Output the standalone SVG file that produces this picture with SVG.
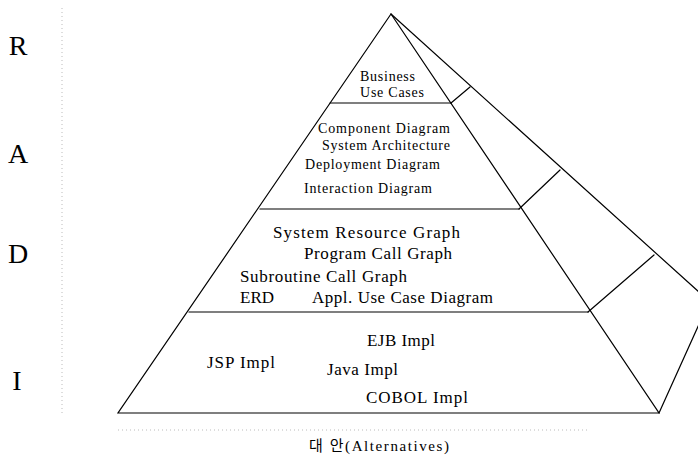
<svg xmlns="http://www.w3.org/2000/svg" width="698" height="455" viewBox="0 0 698 455">
<style>
.edge{stroke:#000;stroke-width:1.2;fill:none;stroke-linecap:round}
.t{font-family:"Liberation Serif","Times New Roman",serif;font-size:14px;fill:#000}
.t2{font-family:"Liberation Serif","Times New Roman",serif;font-size:17px;fill:#000}
.t3{font-family:"Liberation Serif","Noto Sans CJK KR",serif;font-size:15px;fill:#000}
.big{font-family:"Liberation Serif","Times New Roman",serif;font-size:28px;fill:#000}
.dot{stroke:#bbb;stroke-width:1;stroke-dasharray:1 3;fill:none}
</style>
<rect width="698" height="455" fill="#fff"/>
<g id="scan-marks">
<line class="dot" x1="62" y1="8" x2="62" y2="413"/>
<line class="dot" x1="118" y1="430" x2="590" y2="430"/>
</g>
<g id="phases">
<text class="big" x="18" y="55" text-anchor="middle">R</text>
<text class="big" x="18" y="163" text-anchor="middle">A</text>
<text class="big" x="18" y="263" text-anchor="middle">D</text>
<text class="big" x="17" y="390" text-anchor="middle">I</text>
</g>
<g id="connectors">
<path class="edge" d="M391,14 L118,413 L659,413 Z"/>
<path class="edge" d="M391,14 L710,302"/>
<line class="edge" x1="330" y1="103" x2="451" y2="103"/>
<line class="edge" x1="260" y1="209" x2="519" y2="209"/>
<line class="edge" x1="189" y1="312" x2="588" y2="312"/>
<line class="edge" x1="451" y1="103" x2="470" y2="87"/>
<line class="edge" x1="519" y1="209" x2="560" y2="170"/>
<line class="edge" x1="588" y1="312" x2="654" y2="255"/>
<line class="edge" x1="659" y1="413" x2="700" y2="322"/>
</g>
<g id="layer-business">
<text class="t" x="360" y="81" textLength="55" lengthAdjust="spacing">Business</text>
<text class="t" x="360" y="97" textLength="64" lengthAdjust="spacing">Use Cases</text>
</g>
<g id="layer-architecture">
<text class="t" x="318" y="133" textLength="132" lengthAdjust="spacing">Component Diagram</text>
<text class="t" x="322" y="150" textLength="128" lengthAdjust="spacing">System Architecture</text>
<text class="t" x="305" y="169" textLength="135" lengthAdjust="spacing">Deployment Diagram</text>
<text class="t" x="304" y="193" textLength="128" lengthAdjust="spacing">Interaction Diagram</text>
</g>
<g id="layer-design">
<text class="t2" x="273" y="238" textLength="187" lengthAdjust="spacing">System Resource Graph</text>
<text class="t2" x="304" y="259" textLength="148" lengthAdjust="spacing">Program Call Graph</text>
<text class="t2" x="240" y="282" textLength="167" lengthAdjust="spacing">Subroutine Call Graph</text>
<text class="t2" x="240" y="303" textLength="34" lengthAdjust="spacing">ERD</text>
<text class="t2" x="312" y="303" textLength="181" lengthAdjust="spacing">Appl. Use Case Diagram</text>
</g>
<g id="layer-impl">
<text class="t2" x="367" y="346" textLength="68" lengthAdjust="spacing">EJB Impl</text>
<text class="t2" x="207" y="368" textLength="68" lengthAdjust="spacing">JSP Impl</text>
<text class="t2" x="327" y="375" textLength="71" lengthAdjust="spacing">Java Impl</text>
<text class="t2" x="366" y="403" textLength="102" lengthAdjust="spacing">COBOL Impl</text>
</g>
<g id="axis-label">
<text class="t3" x="309" y="451" textLength="140" lengthAdjust="spacing">대 안(Alternatives)</text>
</g>
</svg>
